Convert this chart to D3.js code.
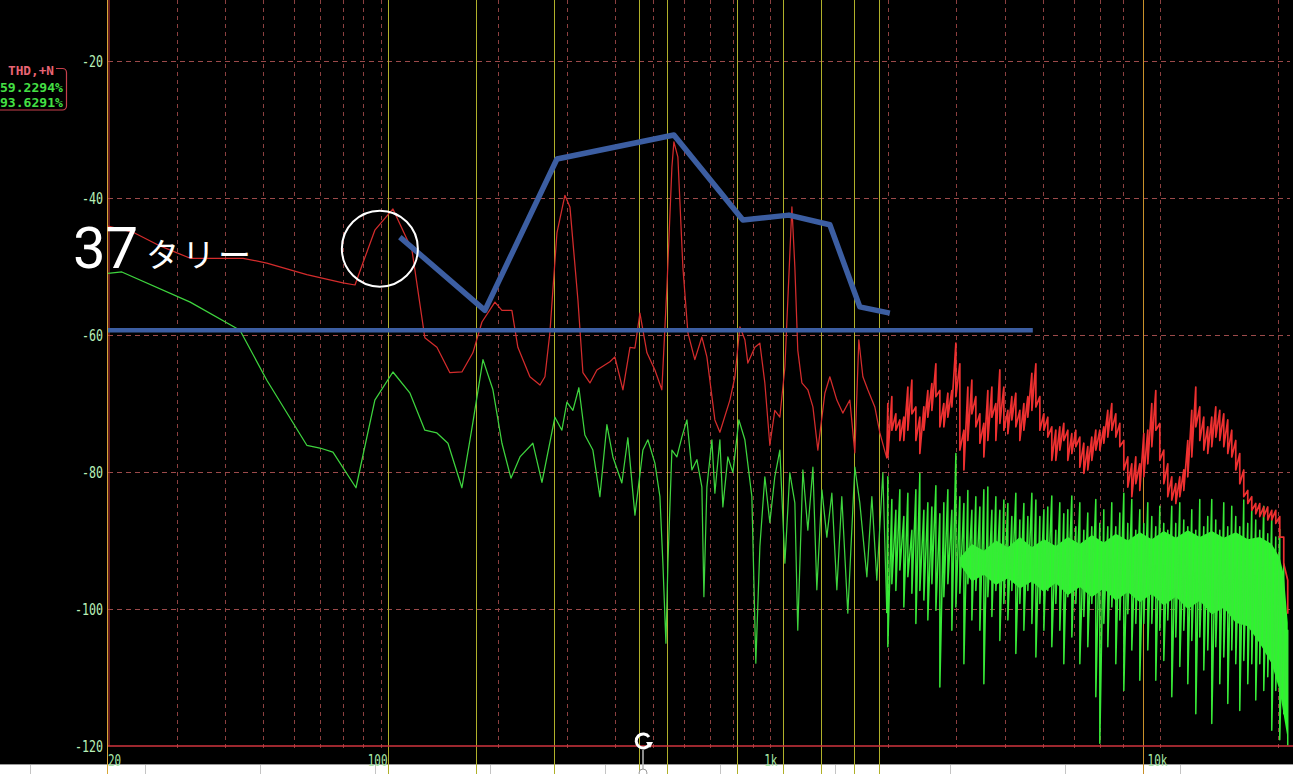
<!DOCTYPE html>
<html><head><meta charset="utf-8">
<script src="https://cdn.jsdelivr.net/npm/d3@7"></script>
<style>html,body{margin:0;padding:0;background:#000;overflow:hidden}</style>
</head><body><svg id="c" width="1293" height="774"></svg>
<script>
// ---------- DATA ----------
const yTicks = [-20, -40, -60, -80, -100, -120];
const xTickValues = [20, 100, 1000, 10000];
const xTickLabels = ["20", "100", "1k", "10k"];
const gridFreqs = [30,40,50,60,70,80,90,100,200,300,400,500,600,700,800,900,1000,2000,3000,4000,5000,6000,7000,8000,9000,10000,20000];
const markerFreqs = [104.5, 175.7, 278.4, 459.8, 542.6, 820.2, 1076, 1347, 1636, 1897];
const markerFreqHigh = [9012];

const legendTitle = "THD,+N";
const legendValues = ["59.2294%", "93.6291%"];

// red trace (low/mid band)
const redFreq = [20,23.2,27.2,32.5,
 44.4,51.1,64.7,80.1,86.0,90.1,96.7,107.6,120.4,129.9,
 139.5,150.6,161.7,172.5,182.0,196.5,204.8,217.2,225.0,241.6,
 256.4,264.0,271.8,283.4,297.0,306.0,320.8,330.4,344.4,358.8,
 387.4,399.0,418.4,436.2,449.2,462.6,482.2,505.4,526.6,542.6,
 558.8,565.4,578.8,596.2,614.2,639.8,667.0,687.0,720.2,741.8,
 787.0,810.6,834.8,859.8,875.0,912.0,939.4,967.4,996.4,1026,
 1057,1089,1108,1135,1155,1175,1204,1247,1285,1323,
 1379,1420,1480,1533,1598,1646,1685,1726,1777,1852,
 1908,1988];
const redDb = [-44.1,-45.0,-47.0,-48.8,
 -48.8,-49.5,-51.2,-52.4,-52.7,-49.5,-44.7,-41.6,-47.6,-60.4,
 -61.8,-65.5,-65.4,-62.6,-58.1,-55.2,-56.4,-56.4,-61.8,-66.1,
 -67.3,-66.1,-59.7,-45.1,-39.6,-41.3,-54.9,-65.5,-67.0,-65.1,
 -63.9,-63.2,-68.0,-61.8,-61.9,-56.8,-62.6,-65.1,-68.0,-53.0,
 -35.5,-31.8,-34.0,-50.1,-59.7,-63.6,-60.3,-63.2,-72.4,-74.2,
 -69.5,-66.1,-58.8,-60.7,-64.1,-61.8,-61.2,-67.0,-76.1,-71.0,
 -72.0,-64.7,-54.9,-41.3,-50.1,-62.2,-67.0,-68.0,-70.5,-76.8,
 -68.5,-66.1,-69.5,-71.4,-69.5,-77.2,-60.7,-66.1,-68.0,-70.5,
 -74.3,-78.0];

// green trace (low/mid band)
const greenFreq = [20,21.7,32.5,43.6,51.1,64.7,69.9,75.5,86.5,96.7,
 107.6,119.0,129.9,139.5,148.9,161.7,172.5,183.1,194.2,204.8,
 216.0,227.8,245.8,259.4,280.0,291.8,300.6,311.4,322.6,334.2,
 350.4,365.2,380.6,394.4,415.8,430.8,449.2,470.8,484.8,505.4,
 520.6,529.8,539.4,545.8,558.8,575.4,592.6,610.6,628.8,647.6,
 667.0,675.0,687.0,707.6,720.2,741.8,755.0,777.6,801.0,829.8,
 859.8,896.0,917.2,939.4,967.4,996.4,1026,1057,1089,1121,
 1155,1175,1211,1247,1285,1315,1355,1395,1437,1480,
 1524,1579,1646,1695,1767,1820,1874,1942,1988];
const greenDb = [-51.0,-50.8,-55.2,-59.3,-66.6,-76.1,-76.5,-77.1,-82.3,-69.5,
 -65.4,-68.5,-73.9,-74.3,-75.8,-82.3,-72.8,-63.6,-68.0,-75.8,
 -80.9,-77.8,-75.8,-81.5,-72.0,-73.9,-69.8,-71.0,-67.7,-74.6,
 -76.8,-83.6,-73.1,-77.8,-81.6,-75.0,-86.3,-76.8,-75.3,-78.7,
 -83.6,-93.3,-105.0,-93.3,-76.8,-77.8,-74.9,-72.4,-79.7,-78.2,
 -82.2,-98.2,-82.2,-75.3,-83.1,-75.3,-85.1,-77.8,-80.1,-72.4,
 -75.3,-83.6,-107.9,-90.9,-80.7,-87.4,-80.7,-76.8,-93.3,-80.1,
 -84.5,-103.1,-79.7,-88.5,-79.3,-97.2,-82.6,-89.5,-83.1,-97.2,
 -83.6,-100.6,-79.3,-84.5,-95.3,-83.6,-95.8,-80.1,-100.6];

// high band bins (each bin has a max and a min reading)
const hfFreq = [2000,2048,2097,2147,2198,2251,2305,2360,2416,2474,
 2533,2594,2656,2719,2784,2851,2919,2989,3060,3134,
 3208,3285,3363,3444,3526,3610,3697,3785,3875,3968,
 4063,4160,4259,4361,4466,4572,4682,4794,4908,5026,
 5144,5267,5393,5522,5654,5789,5928,6069,6215,6363,
 6514,6670,6830,6993,7160,7331,7506,7686,7870,8058,
 8250,8447,8649,8856,9068,9284,9506,9733,9966,10204,
 10447,10697,10953,11215,11483,11757,12038,12326,12620,12922,
 13229,13546,13870,14201,14541,14888,15244,15608,15981,16363,
 16754,17154,17564,17984,18414,18854,19304,19766,20238,20722,
 21214];
const redHi = [-70.0,-69.0,-71.5,-72.4,-72.0,-67.6,-66.6,-70.5,-72.0,-70.5,
 -68.1,-67.1,-64.2,-68.1,-70.0,-68.5,-68.1,-61.2,-64.2,-73.9,
 -67.6,-66.6,-69.0,-71.5,-72.9,-68.1,-67.6,-70.0,-65.1,-67.6,
 -71.0,-69.0,-68.5,-71.0,-70.0,-69.0,-65.6,-64.2,-69.0,-71.5,
 -72.0,-73.4,-73.9,-73.4,-72.9,-73.9,-74.4,-73.9,-74.9,-75.8,
 -76.3,-74.9,-73.9,-73.9,-73.4,-71.0,-70.0,-71.5,-72.9,-75.4,
 -77.8,-78.8,-77.8,-78.8,-74.4,-73.9,-70.0,-68.1,-72.9,-76.8,
 -78.8,-80.7,-81.7,-80.7,-79.7,-75.4,-71.0,-67.6,-70.5,-72.0,
 -73.4,-72.0,-70.5,-71.0,-71.5,-72.4,-73.9,-75.4,-77.3,-79.7,
 -82.7,-83.6,-84.6,-84.6,-85.1,-85.1,-85.6,-85.6,-86.5,-89.5,
 -95.8];
const redLo = [-77.8,-73.9,-73.9,-75.4,-75.4,-73.9,-71.5,-75.4,-77.3,-73.9,
 -72.0,-71.0,-69.0,-73.4,-73.4,-72.0,-70.5,-69.0,-76.8,-79.7,
 -75.4,-71.5,-73.4,-75.8,-77.8,-75.4,-72.0,-75.4,-72.9,-73.9,
 -74.4,-72.4,-73.4,-75.4,-73.9,-72.0,-71.0,-70.5,-73.9,-73.9,
 -74.9,-78.3,-78.3,-76.8,-75.4,-78.3,-77.3,-76.3,-79.3,-80.2,
 -79.7,-78.3,-76.8,-76.8,-75.8,-74.9,-73.9,-74.9,-76.3,-79.7,
 -82.2,-83.6,-81.7,-82.7,-80.7,-78.8,-76.3,-73.9,-78.3,-81.7,
 -83.6,-84.1,-84.6,-83.6,-82.7,-80.7,-77.8,-73.4,-75.4,-76.8,
 -77.3,-76.3,-74.9,-75.4,-76.3,-77.3,-77.8,-79.7,-81.7,-83.6,
 -84.6,-85.6,-86.1,-86.5,-86.5,-87.0,-87.0,-87.5,-89.5,-93.4,
 -100.7];
const greenHi = [-80.7,-84.0,-85.6,-82.6,-86.5,-83.1,-88.5,-82.6,-80.2,-85.6,
 -84.5,-85.1,-82.0,-86.1,-84.5,-82.6,-85.6,-77.3,-83.6,-84.6,
 -82.7,-85.6,-83.6,-85.1,-82.6,-82.2,-85.6,-83.6,-85.6,-84.1,
 -84.6,-86.5,-83.1,-87.0,-84.6,-86.5,-83.1,-84.1,-86.5,-85.5,
 -85.1,-83.5,-88.5,-84.5,-86.1,-85.5,-83.5,-88.0,-84.5,-88.5,
 -86.0,-88.0,-84.0,-87.5,-85.5,-88.0,-84.5,-88.0,-86.0,-83.1,
 -87.5,-84.0,-88.5,-85.5,-87.5,-84.5,-86.5,-88.0,-85.0,-87.5,
 -88.5,-85.0,-87.5,-84.5,-87.0,-88.0,-85.5,-88.5,-84.0,-88.0,
 -86.5,-84.0,-87.0,-88.5,-84.5,-88.0,-85.0,-86.5,-88.0,-84.1,
 -87.5,-85.5,-87.0,-88.5,-85.0,-89.0,-86.5,-89.5,-88.4,-93.4,
 -103.1];
const greenLo = [-105.5,-96.3,-97.3,-94.3,-99.7,-95.3,-97.7,-102.1,-97.3,-98.7,
 -101.6,-96.3,-100.2,-111.4,-98.2,-96.3,-103.1,-99.7,-97.7,-108.0,
 -96.3,-101.6,-97.3,-103.1,-110.9,-98.2,-101.1,-97.3,-104.6,-99.2,
 -101.6,-97.3,-106.5,-99.2,-103.1,-97.3,-102.1,-107.0,-99.2,-103.1,
 -97.3,-105.5,-99.2,-103.1,-108.0,-98.2,-104.1,-99.2,-108.0,-101.1,
 -105.5,-99.2,-112.8,-119.6,-102.1,-105.5,-99.7,-108.0,-101.6,-111.9,
 -100.7,-106.0,-102.1,-110.4,-102.1,-106.0,-102.1,-110.4,-103.1,-107.5,
 -101.6,-112.8,-104.1,-108.4,-103.1,-110.9,-104.6,-115.3,-104.1,-108.9,
 -106.0,-116.7,-105.5,-110.9,-107.0,-113.8,-106.0,-108.0,-114.8,-107.5,
 -110.9,-108.0,-113.3,-108.0,-111.9,-109.9,-117.7,-111.9,-119.1,-115.3,
 -119.9];
// saturated core of the green high band (where the dense trace overlaps itself)
const greenCoreFreq = [3060,3285,3526,3785,4063,4361,4682,5026,5393,5789,
 6215,6670,7160,7686,8250,8856,9506,10204,10953,11757,
 12620,13546,14541,15608,16754,17984,19304,20238,20722,21214];
const greenCoreHi = [-92.5,-90.5,-91.5,-90.0,-91.0,-89.5,-91.0,-89.8,-90.8,-89.5,
 -90.5,-89.2,-90.3,-89.0,-90.0,-88.8,-89.8,-88.6,-89.6,-88.5,
 -89.5,-88.6,-89.6,-88.8,-89.8,-89.5,-90.5,-92.5,-95.0,-102.0];
const greenCoreLo = [-93.5,-96.0,-95.0,-96.5,-95.5,-97.0,-96.0,-97.5,-96.2,-98.0,
 -96.8,-98.3,-97.0,-98.8,-97.5,-99.0,-97.8,-99.5,-98.2,-100.0,
 -98.8,-100.8,-99.8,-102.0,-102.5,-105.0,-108.0,-112.0,-115.5,-119.0];

// hand-drawn annotation overlay (in chart units)
const annoFreq = [112.1, 185.2, 283.4, 565.4, 849.8, 1115, 1420, 1695, 2024];
const annoDb   = [-45.7, -56.4, -34.3, -30.8, -43.2, -42.5, -43.9, -55.9, -56.8];
const refLineFreq = [20, 4708];
const refLineDb = -59.3;
const circleFreq = 99.6, circleDb = -47.4;
const noteNumber = "37";
const noteText = "タリー";

// ---------- DRAW ----------
const svg = d3.select("#c");
const x = d3.scaleLog().domain([20, 21500]).range([108, 1290]);
const y = d3.scaleLinear().domain([-120, -20]).range([746, 61]);
const plotTop = 0, plotBottom = y(-120), plotLeft = x(20), plotRight = 1290;

svg.append("rect").attr("width", 1293).attr("height", 774).attr("fill", "#000");

svg.append("defs").append("clipPath").attr("id", "plot")
  .append("rect").attr("x", plotLeft).attr("y", plotTop)
  .attr("width", plotRight - plotLeft).attr("height", plotBottom - plotTop);

// grid
const grid = svg.append("g");
grid.selectAll("line.v").data(gridFreqs).join("line")
  .attr("x1", d => Math.round(x(d)) + 0.5).attr("x2", d => Math.round(x(d)) + 0.5)
  .attr("y1", plotTop).attr("y2", plotBottom + 4)
  .attr("stroke", "#8c4040").attr("stroke-width", 1).attr("stroke-dasharray", "4,4");
grid.selectAll("line.h").data(yTicks.filter(t => t > -120)).join("line")
  .attr("x1", plotLeft).attr("x2", plotRight)
  .attr("y1", d => Math.round(y(d)) + 0.5).attr("y2", d => Math.round(y(d)) + 0.5)
  .attr("stroke", "#9c4a4a").attr("stroke-width", 1).attr("stroke-dasharray", "5,4");

// bottom strip (window chrome)
svg.append("rect").attr("x", 0).attr("y", 764).attr("width", 1293).attr("height", 10).attr("fill", "#fff");
svg.append("line").attr("x1", 0).attr("x2", 1293).attr("y1", 764.5).attr("y2", 764.5).attr("stroke", "#9a9a9a");
svg.selectAll("line.sep").data(d3.range(30, 1293, 115)).join("line")
  .attr("x1", d => d + 0.5).attr("x2", d => d + 0.5).attr("y1", 765).attr("y2", 774)
  .attr("stroke", "#c4c4c4");

// marker lines
svg.selectAll("line.mk").data(markerFreqs).join("line")
  .attr("x1", d => Math.round(x(d)) + 0.5).attr("x2", d => Math.round(x(d)) + 0.5)
  .attr("y1", 0).attr("y2", 774).attr("stroke", "#b0b02a").attr("stroke-width", 1);
svg.selectAll("line.mk2").data(markerFreqHigh).join("line")
  .attr("x1", d => Math.round(x(d)) + 0.5).attr("x2", d => Math.round(x(d)) + 0.5)
  .attr("y1", 0).attr("y2", 774).attr("stroke", "#c8902a").attr("stroke-width", 1);

// frame
svg.append("line").attr("x1", plotLeft - 0.5).attr("x2", plotLeft - 0.5).attr("y1", 0).attr("y2", 774)
  .attr("stroke", "#d8a838").attr("stroke-width", 1);
svg.append("line").attr("x1", plotLeft + 1).attr("x2", plotLeft + 1).attr("y1", 0).attr("y2", plotBottom)
  .attr("stroke", "#c83838").attr("stroke-width", 1);
svg.append("line").attr("x1", plotLeft).attr("x2", 1293).attr("y1", plotBottom).attr("y2", plotBottom)
  .attr("stroke", "#d0343e").attr("stroke-width", 1.6);

// traces
const line = d3.line().x(d => x(d[0])).y(d => y(d[1]));
const area = d3.area().x(d => x(d[0])).y0(d => y(d[2])).y1(d => y(d[1]));
const traces = svg.append("g").attr("clip-path", "url(#plot)");
function dense(hi, lo) {
  const pts = [];
  hfFreq.forEach((f, i) => { pts.push([f, hi[i]]); pts.push([f, lo[i]]); });
  return pts;
}
const greenSparse = greenFreq.map((f, i) => [f, greenDb[i]]);
const redSparse = redFreq.map((f, i) => [f, redDb[i]]);
traces.append("path").attr("d", line(greenSparse))
  .attr("fill", "none").attr("stroke", "#3ed43e").attr("stroke-width", 1.25).attr("stroke-linejoin", "round");
traces.append("path").attr("d", area(greenCoreFreq.map((f, i) => [f, greenCoreHi[i], greenCoreLo[i]])))
  .attr("fill", "#2cf82c");
traces.append("path").attr("d", line([greenSparse[greenSparse.length - 1]].concat(dense(greenHi, greenLo))))
  .attr("fill", "none").attr("stroke", "#38ea38").attr("stroke-width", 1.5).attr("stroke-linejoin", "round");
traces.append("path").attr("d", line(redSparse))
  .attr("fill", "none").attr("stroke", "#d42c2c").attr("stroke-width", 1.25).attr("stroke-linejoin", "round");
traces.append("path").attr("d", line([redSparse[redSparse.length - 1]].concat(dense(redHi, redLo))))
  .attr("fill", "none").attr("stroke", "#ee3030").attr("stroke-width", 1.7).attr("stroke-linejoin", "round");

// axis labels
const mono = "'DejaVu Sans Mono', 'Liberation Mono', monospace";
svg.selectAll("text.yt").data(yTicks).join("text")
  .attr("x", 103).attr("y", d => y(d) + 6)
  .attr("text-anchor", "end").attr("fill", "#b8f0b8")
  .attr("font-family", mono).attr("font-size", 15)
  .attr("textLength", d => String(d).length * 7).attr("lengthAdjust", "spacingAndGlyphs")
  .text(d => d);
svg.selectAll("text.xt").data(xTickValues).join("text")
  .attr("x", (d, i) => i === 0 ? x(d) : x(d) + 7).attr("y", 766)
  .attr("text-anchor", (d, i) => i === 0 ? "start" : "end").attr("fill", "#a8e8a8")
  .attr("font-family", mono).attr("font-size", 15)
  .attr("textLength", (d, i) => xTickLabels[i].length * 6.6).attr("lengthAdjust", "spacingAndGlyphs")
  .text((d, i) => xTickLabels[i]);

// legend box
const lg = svg.append("g");
lg.append("rect").attr("x", -10).attr("y", 68.5).attr("width", 76.5).attr("height", 41.5).attr("rx", 4)
  .attr("fill", "none").attr("stroke", "#c8404c").attr("stroke-width", 1.2);
lg.append("rect").attr("x", 0).attr("y", 62).attr("width", 56).attr("height", 13).attr("fill", "#000");
lg.append("text").attr("x", 8).attr("y", 75).attr("fill", "#e86474")
  .attr("font-family", mono).attr("font-size", 13).attr("font-weight", "bold")
  .attr("textLength", 46).attr("lengthAdjust", "spacingAndGlyphs").text(legendTitle);
lg.selectAll("text.v").data(legendValues).join("text")
  .attr("x", 0).attr("y", (d, i) => 92 + i * 15).attr("fill", "#44e044")
  .attr("font-family", mono).attr("font-size", 12.8).attr("font-weight", "bold")
  .attr("textLength", 63).attr("lengthAdjust", "spacingAndGlyphs").text(d => d);

// annotations
const ann = svg.append("g");
ann.append("path").attr("d", line(annoFreq.map((f, i) => [f, annoDb[i]])))
  .attr("fill", "none").attr("stroke", "#3c5ea2").attr("stroke-width", 5.5)
  .attr("stroke-linejoin", "round");
ann.append("line").attr("x1", x(refLineFreq[0])).attr("x2", x(refLineFreq[1]))
  .attr("y1", y(refLineDb)).attr("y2", y(refLineDb))
  .attr("stroke", "#3c5ea2").attr("stroke-width", 4.5);
ann.append("circle").attr("cx", x(circleFreq)).attr("cy", y(circleDb)).attr("r", 38)
  .attr("fill", "none").attr("stroke", "#fff").attr("stroke-width", 2);
const note = ann.append("text").attr("fill", "#fff");
note.append("tspan").attr("x", x(20) - 35).attr("y", 268)
  .attr("font-family", "Roboto, 'Noto Sans', sans-serif").attr("font-size", 58).text(noteNumber);
note.append("tspan").attr("x", x(20) + 38).attr("y", 267)
  .attr("font-family", "'Noto Sans CJK JP', sans-serif").attr("font-size", 33)
  .attr("letter-spacing", 3).text(noteText);

// cursor handle
const cur = svg.append("g").attr("transform", "translate(643,741)");
cur.append("line").attr("x1", 0).attr("x2", 0).attr("y1", 9).attr("y2", 30).attr("stroke", "#bbb").attr("stroke-width", 1.5);
cur.append("path").attr("d", "M6,-4 A7,7 0 1,0 6.5,3").attr("fill", "none").attr("stroke", "#fff").attr("stroke-width", 3);
cur.append("path").attr("d", "M3,1 L10,1 L7,7 Z").attr("fill", "#fff");
cur.append("circle").attr("cx", 0).attr("cy", 32).attr("r", 4).attr("fill", "#fff").attr("stroke", "#999");
</script>
</body></html>
